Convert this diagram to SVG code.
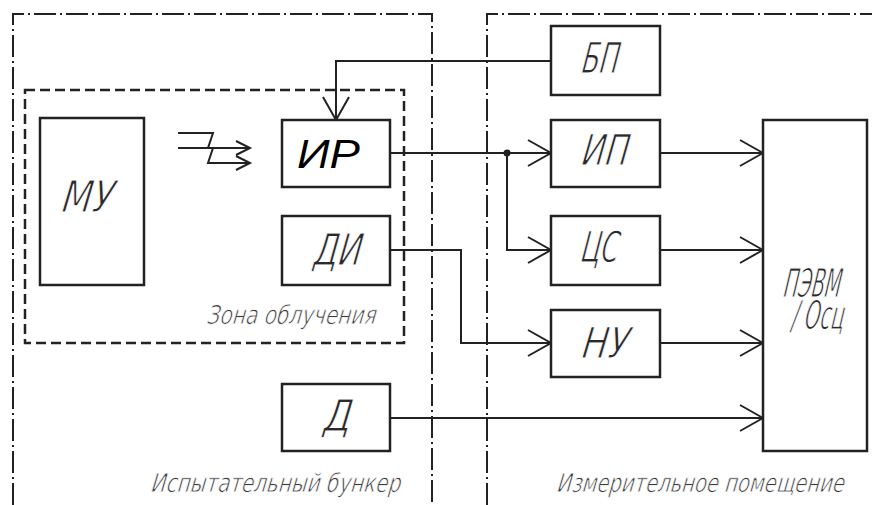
<svg xmlns="http://www.w3.org/2000/svg" width="872" height="505" viewBox="0 0 872 505">
<style>
.frame{fill:none;stroke:#222;stroke-width:2;stroke-dasharray:22 4 2 4}
.zone{fill:none;stroke:#222;stroke-width:2.5;stroke-dasharray:10 5}
.box{fill:#fff;stroke:#222;stroke-width:2.5}
.wire{fill:none;stroke:#222;stroke-width:2}
.lbl{font-family:"DejaVu Sans","Liberation Sans",sans-serif;font-style:italic;fill:#2a2a2a;stroke:#fff;stroke-width:1.1;paint-order:fill}
.cap{font-family:"DejaVu Sans","Liberation Sans",sans-serif;font-style:italic;fill:#3c3c3c;font-size:26px;stroke:#fff;stroke-width:0.8;paint-order:fill}
.ir{font-family:"Liberation Sans",Arial,sans-serif;font-style:italic;fill:#000;font-size:41px}
</style>
<defs>
<marker id="arr" markerUnits="userSpaceOnUse" viewBox="-25 -15 27 30" refX="0" refY="0" markerWidth="27" markerHeight="30" orient="auto" overflow="visible">
<path d="M-23,-13 L0,0 L-23,13" fill="none" stroke="#222" stroke-width="2"/>
</marker>
<marker id="sarr" markerUnits="userSpaceOnUse" viewBox="-16 -8 18 16" refX="0" refY="0" markerWidth="18" markerHeight="16" orient="auto" overflow="visible">
<path d="M-14,-7 L0,0 L-14,7" fill="none" stroke="#222" stroke-width="2"/>
</marker>
</defs>
<rect width="872" height="505" fill="#fff"/>
<g id="frames">
<path class="frame" d="M13,505 V14 H432 V505"/>
<path class="frame" d="M487,505 V14 H872"/>
<rect class="zone" x="25" y="90" width="379" height="253"/>
<text class="cap" transform="translate(207,324) skewX(-8) scale(0.8,1)" textLength="211" lengthAdjust="spacingAndGlyphs">Зона облучения</text>
<text class="cap" transform="translate(151,492) skewX(-8) scale(0.8,1)" textLength="312" lengthAdjust="spacingAndGlyphs">Испытательный бункер</text>
<text class="cap" transform="translate(557,492) skewX(-8) scale(0.8,1)" textLength="359" lengthAdjust="spacingAndGlyphs">Измерительное помещение</text>
</g>
<g id="connectors">
<path class="wire" d="M551,61 H336 V120" marker-end="url(#arr)"/>
<path class="wire" d="M390,153 H551" marker-end="url(#arr)"/>
<path class="wire" d="M507,153 V250 H551" marker-end="url(#arr)"/>
<circle cx="507" cy="153" r="3.5" fill="#222"/>
<path class="wire" d="M660,153 H763" marker-end="url(#arr)"/>
<path class="wire" d="M660,250 H763" marker-end="url(#arr)"/>
<path class="wire" d="M390,250 H461 V343 H551" marker-end="url(#arr)"/>
<path class="wire" d="M660,343 H763" marker-end="url(#arr)"/>
<path class="wire" d="M390,418 H763" marker-end="url(#arr)"/>
<g id="radiation">
<path class="wire" d="M178,133 H213 L208,148 H250" marker-end="url(#sarr)"/>
<path class="wire" d="M178,148 H213 L208,163 H250" marker-end="url(#sarr)"/>
</g>
</g>
<g id="MU">
<rect class="box" x="40" y="118" width="104" height="167"/>
<text class="lbl" transform="translate(61,212) skewX(-8) scale(0.75,1)" font-size="44" textLength="69" lengthAdjust="spacingAndGlyphs">МУ</text>
</g>
<g id="IR">
<rect class="box" x="282" y="120" width="108" height="67"/>
<text class="ir" x="297" y="168" textLength="63" lengthAdjust="spacingAndGlyphs">ИР</text>
</g>
<g id="DI">
<rect class="box" x="282" y="216" width="108" height="69"/>
<text class="lbl" transform="translate(313,265) skewX(-8) scale(0.75,1)" font-size="44" textLength="64" lengthAdjust="spacingAndGlyphs">ДИ</text>
</g>
<g id="D">
<rect class="box" x="282" y="384" width="108" height="67"/>
<text class="lbl" transform="translate(323,431) skewX(-8) scale(0.75,1)" font-size="44" textLength="37" lengthAdjust="spacingAndGlyphs">Д</text>
</g>
<g id="BP">
<rect class="box" x="551" y="26" width="109" height="69"/>
<text class="lbl" transform="translate(581,73) skewX(-8) scale(0.6,1)" font-size="43" textLength="62" lengthAdjust="spacingAndGlyphs">БП</text>
</g>
<g id="IP">
<rect class="box" x="551" y="120" width="109" height="67"/>
<text class="lbl" transform="translate(581,165) skewX(-8) scale(0.7,1)" font-size="43" textLength="67" lengthAdjust="spacingAndGlyphs">ИП</text>
</g>
<g id="CS">
<rect class="box" x="551" y="216" width="109" height="69"/>
<text class="lbl" transform="translate(580,262) skewX(-8) scale(0.6,1)" font-size="43" textLength="63" lengthAdjust="spacingAndGlyphs">ЦС</text>
</g>
<g id="NU">
<rect class="box" x="551" y="310" width="109" height="67"/>
<text class="lbl" transform="translate(581,358) skewX(-8) scale(0.7,1)" font-size="43" textLength="67" lengthAdjust="spacingAndGlyphs">НУ</text>
</g>
<g id="PEVM">
<rect class="box" x="763" y="120" width="104" height="331"/>
<text class="lbl" transform="translate(783,297) skewX(-8) scale(0.55,1)" font-size="40" textLength="104" lengthAdjust="spacingAndGlyphs">ПЭВМ</text>
<text class="lbl" transform="translate(791,329) skewX(-8) scale(0.55,1)" font-size="40" textLength="95" lengthAdjust="spacingAndGlyphs">/ Осц</text>
</g>
</svg>
